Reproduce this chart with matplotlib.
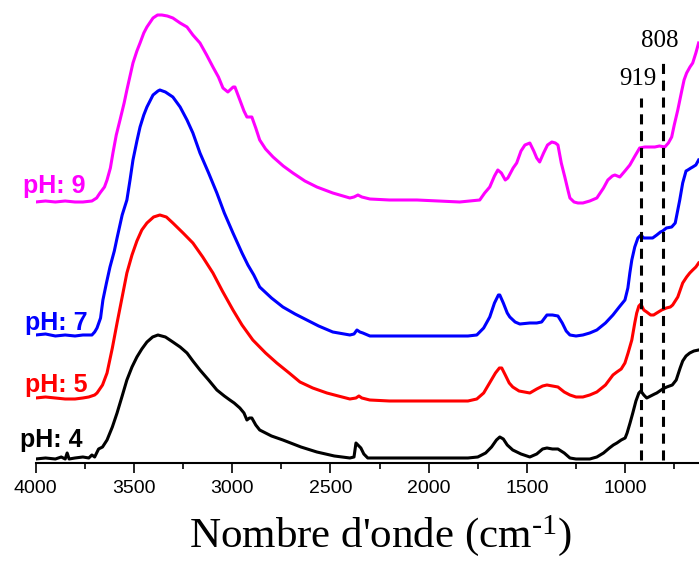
import matplotlib.pyplot as plt
from matplotlib.ticker import MultipleLocator

# Spectres IR à différents pH (absorbance décalée, u.a.)
wn_ph4 = [4000, 3950, 3900, 3870, 3850, 3840, 3830, 3800, 3760, 3730, 3714, 3700, 3680, 3660,
          3637, 3610, 3586, 3560, 3536, 3510, 3485, 3460, 3434, 3405, 3378, 3340, 3302, 3265,
          3230, 3200, 3164, 3120, 3078, 3040, 3012, 2990, 2961, 2940, 2925, 2912, 2900, 2880,
          2860, 2800, 2742, 2650, 2569, 2480, 2401, 2380, 2370, 2360, 2345, 2330, 2310, 2284,
          2200, 2000, 1800, 1750, 1710, 1680, 1655, 1638, 1620, 1600, 1572, 1530, 1485, 1450,
          1420, 1398, 1370, 1342, 1310, 1281, 1250, 1215, 1180, 1144, 1110, 1080, 1060, 1042,
          1020, 1000, 990, 975, 961, 945, 930, 920, 905, 890, 870, 850, 839, 809, 788, 760,
          740, 720, 707, 690, 671, 650, 626]
abs_ph4 = [0.04, 0.05, 0.04, 0.06, 0.04, 0.10, 0.04, 0.05, 0.06, 0.05, 0.08, 0.06, 0.14, 0.16,
           0.23, 0.36, 0.50, 0.67, 0.83, 0.96, 1.06, 1.14, 1.21, 1.26, 1.28, 1.26, 1.21, 1.16,
           1.10, 1.02, 0.93, 0.83, 0.73, 0.67, 0.63, 0.60, 0.55, 0.50, 0.43, 0.45, 0.45, 0.38,
           0.33, 0.27, 0.23, 0.16, 0.11, 0.07, 0.05, 0.06, 0.20, 0.18, 0.15, 0.09, 0.05, 0.05,
           0.05, 0.05, 0.05, 0.06, 0.10, 0.16, 0.23, 0.26, 0.24, 0.18, 0.13, 0.09, 0.06, 0.09,
           0.14, 0.15, 0.14, 0.14, 0.10, 0.05, 0.04, 0.04, 0.04, 0.06, 0.10, 0.15, 0.18, 0.20,
           0.23, 0.25, 0.30, 0.40, 0.50, 0.62, 0.70, 0.72, 0.68, 0.65, 0.67, 0.69, 0.70, 0.74,
           0.76, 0.78, 0.83, 0.95, 1.02, 1.07, 1.10, 1.12, 1.13]

wn_ph5 = [4000, 3950, 3900, 3850, 3800, 3760, 3730, 3700, 3688, 3660, 3637, 3610, 3586, 3560,
          3536, 3510, 3485, 3460, 3434, 3400, 3368, 3335, 3302, 3250, 3200, 3150, 3098, 3050,
          2996, 2950, 2895, 2830, 2773, 2710, 2655, 2590, 2518, 2460, 2401, 2370, 2355, 2340,
          2300, 2200, 2000, 1800, 1755, 1720, 1690, 1660, 1640, 1628, 1610, 1590, 1572, 1540,
          1485, 1450, 1420, 1398, 1370, 1342, 1310, 1281, 1250, 1215, 1180, 1144, 1100, 1062,
          1042, 1020, 1001, 985, 966, 951, 941, 930, 920, 905, 890, 870, 855, 839, 814, 790,
          770, 758, 732, 707, 687, 671, 656, 640, 626]
abs_ph5 = [0.65, 0.66, 0.65, 0.64, 0.64, 0.65, 0.66, 0.68, 0.70, 0.78, 0.90, 1.15, 1.40, 1.66,
           1.90, 2.08, 2.22, 2.33, 2.40, 2.46, 2.48, 2.46, 2.40, 2.30, 2.20, 2.06, 1.90, 1.72,
           1.53, 1.38, 1.23, 1.10, 1.00, 0.90, 0.81, 0.75, 0.70, 0.67, 0.64, 0.65, 0.67, 0.65,
           0.63, 0.62, 0.62, 0.62, 0.64, 0.70, 0.80, 0.90, 0.95, 0.95, 0.88, 0.80, 0.76, 0.72,
           0.70, 0.74, 0.77, 0.78, 0.77, 0.76, 0.71, 0.68, 0.66, 0.66, 0.68, 0.71, 0.78, 0.88,
           0.91, 0.94, 1.00, 1.10, 1.23, 1.40, 1.50, 1.57, 1.59, 1.53, 1.51, 1.48, 1.48, 1.50,
           1.53, 1.55, 1.56, 1.58, 1.66, 1.80, 1.86, 1.90, 1.93, 1.96, 2.00]

wn_ph7 = [4000, 3950, 3900, 3850, 3800, 3760, 3714, 3700, 3688, 3670, 3658, 3640, 3622, 3600,
          3586, 3560, 3536, 3520, 3505, 3485, 3469, 3450, 3434, 3403, 3378, 3368, 3340, 3302,
          3265, 3230, 3200, 3164, 3120, 3078, 3040, 2996, 2950, 2920, 2890, 2860, 2800, 2742,
          2680, 2620, 2560, 2488, 2401, 2380, 2365, 2350, 2335, 2299, 2200, 2000, 1800, 1755,
          1720, 1689, 1665, 1645, 1638, 1620, 1600, 1587, 1560, 1536, 1485, 1450, 1425, 1398,
          1370, 1342, 1320, 1300, 1281, 1250, 1215, 1180, 1144, 1100, 1062, 1030, 1001, 986,
          976, 966, 951, 935, 920, 905, 885, 860, 839, 820, 809, 790, 763, 745, 732, 722, 707,
          690, 681, 665, 656, 640, 626]
abs_ph7 = [1.28, 1.29, 1.27, 1.28, 1.27, 1.28, 1.28, 1.31, 1.35, 1.45, 1.63, 1.80, 1.96, 2.12,
           2.25, 2.48, 2.63, 2.83, 3.03, 3.22, 3.36, 3.48, 3.56, 3.68, 3.72, 3.73, 3.71, 3.66,
           3.56, 3.43, 3.30, 3.10, 2.90, 2.70, 2.50, 2.30, 2.10, 1.98, 1.88, 1.76, 1.65, 1.56,
           1.49, 1.43, 1.37, 1.31, 1.28, 1.29, 1.33, 1.31, 1.30, 1.27, 1.27, 1.27, 1.27, 1.28,
           1.35, 1.46, 1.60, 1.68, 1.68, 1.60, 1.50, 1.46, 1.41, 1.39, 1.40, 1.40, 1.41, 1.48,
           1.48, 1.47, 1.40, 1.32, 1.28, 1.27, 1.28, 1.30, 1.33, 1.40, 1.48, 1.56, 1.63, 1.75,
           1.90, 2.03, 2.16, 2.25, 2.28, 2.25, 2.25, 2.25, 2.28, 2.31, 2.32, 2.35, 2.36, 2.40,
           2.53, 2.63, 2.80, 2.92, 2.93, 2.95, 2.96, 2.98, 3.03]

wn_ph9 = [4000, 3950, 3900, 3850, 3800, 3760, 3714, 3690, 3673, 3650, 3637, 3620, 3607, 3590,
          3571, 3550, 3536, 3520, 3505, 3485, 3469, 3450, 3434, 3403, 3380, 3358, 3330, 3302,
          3265, 3230, 3200, 3164, 3130, 3098, 3070, 3047, 3022, 2995, 2986, 2961, 2940, 2925,
          2900, 2880, 2860, 2830, 2792, 2740, 2691, 2630, 2569, 2488, 2401, 2380, 2360, 2340,
          2299, 2200, 2060, 1950, 1842, 1740, 1715, 1689, 1665, 1648, 1630, 1610, 1597, 1570,
          1552, 1530, 1510, 1485, 1465, 1450, 1435, 1415, 1395, 1373, 1355, 1342, 1325, 1307,
          1290, 1281, 1260, 1240, 1215, 1180, 1144, 1110, 1088, 1065, 1052, 1027, 1001, 976,
          950, 926, 900, 875, 849, 825, 798, 780, 763, 750, 732, 712, 700, 687, 670, 656, 640,
          626]
abs_ph9 = [2.61, 2.62, 2.61, 2.62, 2.61, 2.61, 2.62, 2.65, 2.70, 2.76, 2.83, 2.95, 3.10, 3.28,
           3.43, 3.60, 3.73, 3.87, 4.00, 4.12, 4.20, 4.30, 4.36, 4.45, 4.48, 4.48, 4.47, 4.45,
           4.40, 4.36, 4.28, 4.20, 4.08, 3.96, 3.86, 3.75, 3.71, 3.76, 3.76, 3.63, 3.52, 3.46,
           3.46, 3.35, 3.23, 3.14, 3.06, 2.97, 2.90, 2.82, 2.76, 2.70, 2.65, 2.66, 2.68, 2.66,
           2.64, 2.63, 2.63, 2.62, 2.61, 2.63, 2.70, 2.76, 2.87, 2.93, 2.90, 2.83, 2.85, 2.95,
           3.00, 3.12, 3.18, 3.20, 3.12, 3.05, 3.01, 3.10, 3.18, 3.21, 3.20, 3.18, 3.00, 2.86,
           2.72, 2.65, 2.61, 2.60, 2.60, 2.62, 2.65, 2.75, 2.83, 2.87, 2.88, 2.86, 2.92, 2.98,
           3.07, 3.15, 3.16, 3.16, 3.16, 3.17, 3.16, 3.20, 3.26, 3.38, 3.53, 3.72, 3.83, 3.90,
           3.96, 4.00, 4.10, 4.20]

series = [
    ('pH: 4', wn_ph4, abs_ph4, 'black', 0.16, 4080),
    ('pH: 5', wn_ph5, abs_ph5, '#ff0000', 0.71, 4055),
    ('pH: 7', wn_ph7, abs_ph7, '#0000ff', 1.33, 4055),
    ('pH: 9', wn_ph9, abs_ph9, '#ff00ff', 2.70, 4065),
]

# bandes repérées
bandes = [919, 808]
bandes_haut = [3.65, 4.01]
bandes_texte_y = [3.78, 4.16]

plt.rcParams['mathtext.fontset'] = 'custom'
plt.rcParams['mathtext.rm'] = 'Liberation Serif'
plt.rcParams['mathtext.it'] = 'Liberation Serif:italic'

fig = plt.figure(figsize=(6.99, 5.61), dpi=100)
ax = fig.add_axes([0.0511, 0.1747, 0.9489, 0.8253])

for nom, wn, a, c, ylab, xlab in series:
    ax.plot(wn, a, color=c, lw=2.2, solid_joinstyle='round')
    ax.text(xlab, ylab, nom, color=c, fontsize=18, fontweight='bold',
            family='Liberation Sans', ha='left', va='baseline')

for b, h, ty in zip(bandes, bandes_haut, bandes_texte_y):
    ax.plot([b, b], [0.03, h], color='black', lw=2.2, linestyle=(0, (3.3, 2.2)))
    ax.text(b + 17, ty, str(b), fontsize=18, family='Liberation Serif',
            ha='center', va='baseline')

ax.set_xlim(4000, 624)
ax.set_ylim(0, 4.63)
ax.xaxis.set_major_locator(MultipleLocator(500))
ax.xaxis.set_minor_locator(MultipleLocator(250))
ax.tick_params(axis='x', which='major', length=7, width=1.2, labelsize=14, pad=5)
ax.tick_params(axis='x', which='minor', length=4, width=1.2)
for lab in ax.get_xticklabels():
    lab.set_family('Liberation Sans')
ax.set_yticks([])
for s in ['left', 'right', 'top']:
    ax.spines[s].set_visible(False)
ax.spines['bottom'].set_linewidth(1.5)

ax.set_xlabel(r"Nombre d'onde (cm$^{\text{-}1}$)", fontsize=31,
              family='Liberation Serif', labelpad=12)
ax.xaxis.label.set_x(0.52)

fig.savefig('out.png', dpi=100)
